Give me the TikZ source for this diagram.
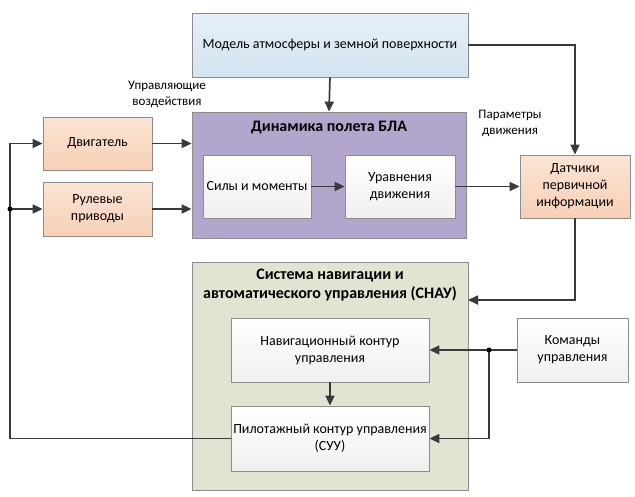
\documentclass[tikz,border=0pt]{standalone}
\usepackage{fontspec}
\setmainfont{Carlito}
\usepackage{tikz}
\usetikzlibrary{arrows.meta, shadows}

\definecolor{lineGray}{HTML}{3A3A3A}
\definecolor{edgeGray}{HTML}{8C8C8C}
\definecolor{dynPurple}{HTML}{B3A6CC}
\definecolor{snauGreen}{HTML}{E0E4D1}
\definecolor{modelTop}{HTML}{E6EFF8}
\definecolor{modelBot}{HTML}{D3E3F1}
\definecolor{orangeTop}{HTML}{FBE4D4}
\definecolor{orangeBot}{HTML}{F6D0B6}
\tikzset{
  blk/.style={draw=edgeGray, line width=0.8pt, align=center, inner sep=2pt,
    drop shadow={opacity=0.25, shadow xshift=1.2pt, shadow yshift=-1.2pt},
    font=\fontsize{14}{17}\selectfont},
  blueblk/.style={blk, top color=modelTop, bottom color=modelBot},
  orangeblk/.style={blk, top color=orangeTop, bottom color=orangeBot},
  whiteblk/.style={blk, top color=white, bottom color=gray!12},
  purpleblk/.style={blk, fill=dynPurple},
  greenblk/.style={blk, fill=snauGreen},
  lbl/.style={font=\fontsize{13}{16}\selectfont, align=center},
  ttl/.style={font=\bfseries\fontsize{16}{19}\selectfont, align=center},
  conn/.style={draw=lineGray, line width=1.7pt, -{Triangle[length=10pt, width=9pt]}},
  jdot/.style={circle, fill=black, inner sep=0pt, minimum size=5pt}
}

\begin{document}
\begin{tikzpicture}[x=1pt, y=-1pt]
  \useasboundingbox (0,0) rectangle (635,496);

  % containers
  \node[purpleblk, minimum width=274pt, minimum height=126pt] (dyn) at (329,175) {};
  \node[ttl] (dynT) at (329,128) {Динамика полета БЛА};
  \node[greenblk, minimum width=276pt, minimum height=228pt] (snau) at (330,376) {};
  \node[ttl] (snauT) at (330,285) {Система навигации и\\автоматического управления (СНАУ)};

  % blocks
  \node[blueblk, minimum width=276pt, minimum height=64pt] (model) at (330,45) {Модель атмосферы и земной поверхности};
  \node[whiteblk, minimum width=108pt, minimum height=63pt] (sily) at (257,186.5) {Силы и моменты};
  \node[whiteblk, minimum width=110pt, minimum height=63pt] (urav) at (400,186.5) {Уравнения\\движения};
  \node[orangeblk, minimum width=109pt, minimum height=53pt] (dvig) at (97.5,143.5) {Двигатель};
  \node[orangeblk, minimum width=109pt, minimum height=54pt] (rul) at (97.5,209) {Рулевые\\приводы};
  \node[orangeblk, minimum width=110pt, minimum height=63pt] (datch) at (575,186.5) {Датчики\\первичной\\информации};
  \node[whiteblk, minimum width=198pt, minimum height=64pt] (nav) at (330,350) {Навигационный контур\\управления};
  \node[whiteblk, minimum width=198pt, minimum height=65pt] (pilot) at (330,438.5) {Пилотажный контур управления\\(СУУ)};
  \node[whiteblk, minimum width=111pt, minimum height=64pt] (kom) at (572.5,350) {Команды\\управления};

  % labels
  \node[lbl] (upr) at (167,94) {Управляющие\\воздействия};
  \node[lbl] (par) at (510,123) {Параметры\\движения};

  % junctions
  \coordinate (fb) at (10,209);
  \coordinate (kj) at (489,350);
  \coordinate (snauIn) at (468,300);

  % connectors
  \draw[conn] (model.south) -- (dyn.north);
  \draw[conn] (model.east) -| (datch.north);
  \draw[conn] (sily.east) -- (urav.west);
  \draw[conn] (urav.east) -- (datch.west);
  \draw[conn] (dvig.east) -- (dvig.east -| dyn.west);
  \draw[conn] (rul.east) -- (rul.east -| dyn.west);
  \draw[conn] (datch.south) |- (snauIn);
  \draw[conn] (nav.south) -- (pilot.north);
  \draw[conn] (kom.west) -- (nav.east);
  \draw[conn] (kj) |- (pilot.east);
  \draw[conn] (pilot.west) -| (fb) |- (dvig.west);
  \draw[conn] (fb) -- (rul.west);
  \node[jdot] at (fb) {};
  \node[jdot] at (kj) {};
\end{tikzpicture}
\end{document}
